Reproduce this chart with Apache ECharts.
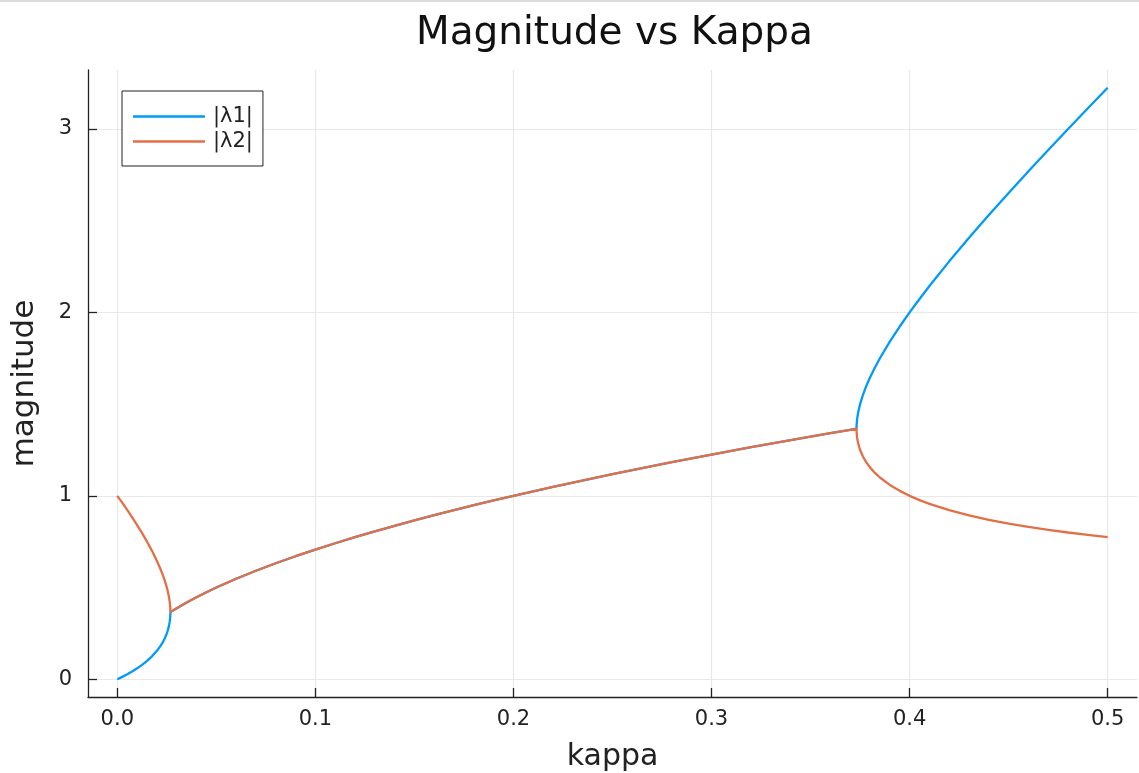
<!DOCTYPE html>
<html>
<head>
<meta charset="utf-8">
<script src="https://cdn.jsdelivr.net/npm/echarts@6/dist/echarts.min.js"></script>
<style>
html,body{margin:0;padding:0;background:#fff;}
#chart{width:1139px;height:773px;}
</style>
</head>
<body>
<div id="chart"></div>
<script>
const kappa = [0,0.001,0.002,0.003,0.005,0.0075,0.01,0.0125,0.015,0.0175,0.02,0.022,0.023,0.024,0.025,0.0255,0.026,0.0262,0.0265,0.0266,0.0267,0.02678,
  0.0268,0.028,0.03,0.035,0.04,0.045,0.05,0.06,0.07,0.08,0.09,0.1,0.11,0.12,0.13,0.14,0.15,0.16,0.17,0.18,0.19,0.2,0.21,0.22,0.23,0.24,0.25,0.26,0.27,0.28,0.29,0.3,0.31,0.32,0.33,0.34,0.35,0.36,0.37,0.3732,
  0.37325,0.3735,0.374,0.375,0.3765,0.378,0.38,0.3825,0.385,0.39,0.395,0.4,0.405,0.41,0.42,0.43,0.44,0.45,0.46,0.47,0.48,0.49,0.5];

const lambda1 = [0,0.0051,0.0103,0.0157,0.0271,0.0425,0.0595,0.0785,0.1,0.125,0.1551,0.1848,0.2027,0.2238,0.25,0.2664,0.2869,0.2972,0.3169,0.3259,0.3378,0.3547,
  0.3661,0.3742,0.3873,0.4183,0.4472,0.4743,0.5,0.5477,0.5916,0.6325,0.6708,0.7071,0.7416,0.7746,0.8062,0.8367,0.866,0.8944,0.922,0.9487,0.9747,1,1.0247,1.0488,1.0724,1.0954,1.118,1.1402,1.1619,1.1832,1.2042,1.2247,1.245,1.2649,1.2845,1.3038,1.3229,1.3416,1.3601,1.366,
  1.386,1.4181,1.4531,1.5,1.5522,1.5952,1.6449,1.7,1.75,1.8405,1.9229,2,2.0733,2.1437,2.2782,2.4066,2.5307,2.6514,2.7695,2.8856,3,3.113,3.2247];

const lambda2 = [1,0.9849,0.9697,0.9543,0.9229,0.8825,0.8405,0.7965,0.75,0.7,0.6449,0.5952,0.5673,0.5362,0.5,0.4786,0.4531,0.4408,0.4181,0.4081,0.3952,0.3775,
  0.3661,0.3742,0.3873,0.4183,0.4472,0.4743,0.5,0.5477,0.5916,0.6325,0.6708,0.7071,0.7416,0.7746,0.8062,0.8367,0.866,0.8944,0.922,0.9487,0.9747,1,1.0247,1.0488,1.0724,1.0954,1.118,1.1402,1.1619,1.1832,1.2042,1.2247,1.245,1.2649,1.2845,1.3038,1.3229,1.3416,1.3601,1.366,
  1.3465,1.3169,1.287,1.25,1.2128,1.1848,1.1551,1.125,1.1,1.0595,1.0271,1,0.9767,0.9563,0.9218,0.8934,0.8693,0.8486,0.8305,0.8144,0.8,0.787,0.7753];

const xTicks = [0,0.1,0.2,0.3,0.4,0.5];
const yTicks = [0,1,2,3];
const seriesNames = ['|λ1|','|λ2|'];
const seriesColors = ['#009AFA','#E36F47'];

const FONT = 'DejaVu Sans';
const chart = echarts.init(document.getElementById('chart'), null, {renderer:'canvas'});
const pairs = ys => kappa.map((k,i)=>[k, ys[i]]);

chart.setOption({
  animation:false,
  backgroundColor:'#fff',
  graphic:[{type:'rect', left:0, top:0, shape:{width:1139,height:2}, style:{fill:'#dcdcdc'}, silent:true}],
  title:{
    text:'Magnitude vs Kappa',
    left:411, top:9,
    textStyle:{fontFamily:FONT, fontSize:39, fontWeight:'normal', color:'#111'}
  },
  legend:{
    orient:'vertical', left:122, top:91,
    backgroundColor:'#fff', borderColor:'#222', borderWidth:1, borderRadius:0,
    padding:[13,10,12,11], itemGap:0, itemWidth:72, itemHeight:2.5, icon:'rect',
    textStyle:{fontFamily:FONT, fontSize:21, color:'#222', lineHeight:25, padding:[0,0,0,3]},
    data:seriesNames
  },
  grid:{left:88, right:2, top:70, bottom:76, containLabel:false, outerBoundsMode:'none'},
  xAxis:{
    type:'value', min:-0.0148, max:0.5148,
    name:'kappa', nameLocation:'middle', nameGap:45,
    nameTextStyle:{fontFamily:FONT, fontSize:30, color:'#222'},
    axisLine:{show:true, onZero:false, lineStyle:{color:'#222', width:1.3}},
    axisTick:{show:true, inside:true, length:9, customValues:xTicks, lineStyle:{color:'#222', width:1.3}},
    axisLabel:{customValues:xTicks, margin:12, fontFamily:FONT, fontSize:21, color:'#222', formatter:v=>v.toFixed(1)},
    splitLine:{show:true, lineStyle:{color:'#e8e8e8', width:1.2}}
  },
  yAxis:{
    type:'value', min:-0.0967, max:3.3214,
    name:'magnitude', nameLocation:'middle', nameGap:48, nameRotate:90,
    nameTextStyle:{fontFamily:FONT, fontSize:31, color:'#222'},
    axisLine:{show:true, onZero:false, lineStyle:{color:'#222', width:1.3}},
    axisTick:{show:true, inside:true, length:9, customValues:yTicks, lineStyle:{color:'#222', width:1.3}},
    axisLabel:{customValues:yTicks, margin:16, fontFamily:FONT, fontSize:21, color:'#222', formatter:v=>String(v)},
    splitLine:{show:true, lineStyle:{color:'#e8e8e8', width:1.2}}
  },
  series:[
    {name:seriesNames[0], type:'line', symbol:'none', data:pairs(lambda1), color:seriesColors[0], lineStyle:{width:2.3, color:seriesColors[0]}, z:2},
    {name:seriesNames[1], type:'line', symbol:'none', data:pairs(lambda2), color:seriesColors[1], lineStyle:{width:2.3, color:seriesColors[1]}, z:3}
  ]
});
</script>
</body>
</html>
